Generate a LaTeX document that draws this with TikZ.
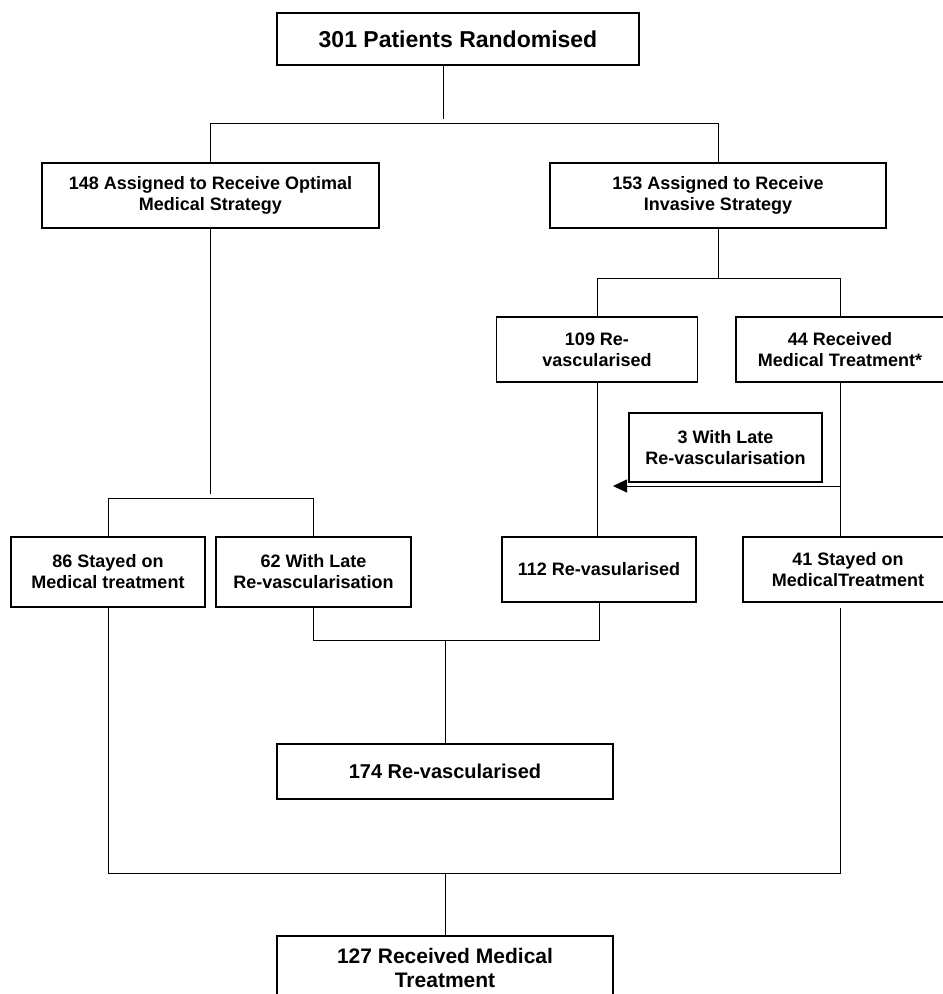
\documentclass[tikz,border=0pt]{standalone}
\usepackage{fontspec}
\setmainfont{Liberation Sans}
\usetikzlibrary{arrows.meta,calc}
\begin{document}
\begin{tikzpicture}[x=1pt,y=-1pt,
  box/.style={draw, line width=1.1pt, inner sep=0pt, align=center,
    font=\bfseries\fontsize{18}{21}\selectfont},
  conn/.style={line width=0.9pt}]
\useasboundingbox (0,0) rectangle (943,994);

% boxes
\node[box, minimum width=362pt, minimum height=52pt,
  font=\bfseries\fontsize{23}{26}\selectfont] (top) at (458,39) {301 Patients Randomised};
\node[box, minimum width=337pt, minimum height=65pt] (L1) at (210.5,195.5)
  {148 Assigned to Receive Optimal\\Medical Strategy};
\node[box, minimum width=336pt, minimum height=65pt] (R1) at (718,195.5)
  {153 Assigned to Receive\\Invasive Strategy};
\node[box, minimum width=201pt, minimum height=65pt] (B109) at (597,349.5)
  {109 Re-\\vascularised};
\node[box, minimum width=208pt, minimum height=65pt] (B44) at (840,349.5)
  {44 Received\\Medical Treatment*};
\node[box, minimum width=193pt, minimum height=69pt] (B3) at (725.5,447.5)
  {3 With Late\\Re-vascularisation};
\node[box, minimum width=194pt, minimum height=70pt] (B86) at (108,572)
  {86 Stayed on\\Medical treatment};
\node[box, minimum width=195pt, minimum height=70pt] (B62) at (313.5,572)
  {62 With Late\\Re-vascularisation};
\node[box, minimum width=194pt, minimum height=65pt] (B112) at (599,569.5)
  {112 Re-vasularised};
\node[box, minimum width=210pt, minimum height=65pt] (B41) at (848,569.5)
  {41 Stayed on\\MedicalTreatment};
\node[box, minimum width=336pt, minimum height=55pt,
  font=\bfseries\fontsize{20}{23}\selectfont] (B174) at (445,771.5) {174 Re-vascularised};
\node[box, minimum width=336pt, minimum height=64pt,
  font=\bfseries\fontsize{21}{24}\selectfont] (B127) at (445,968)
  {127 Received Medical\\Treatment};

% junction points
\coordinate (jTop) at (443,123);
\coordinate (jL) at (210,498);
\coordinate (jR) at (716,278);
\coordinate (jM) at (445,640);
\coordinate (jB) at (445,873);
\coordinate (arrEnd) at (613,486);

% connectors
\draw[conn] ($(top.south)+(-15,0)$) -- ($(top.south)+(-15,53)$);
\draw[conn] (L1.north) -- (L1.north |- jTop) -- (R1.north |- jTop) -- (R1.north);

\draw[conn] (L1.south) -- ($(L1.south)+(0,265)$);
\draw[conn] (B86.north) -- (B86.north |- jL) -- (B62.north |- jL) -- (B62.north);

\draw[conn] (R1.south) -- (R1.south |- jR);
\draw[conn] (B109.north) -- (B109.north |- jR) -- (B44.north |- jR) -- (B44.north);

\draw[conn] (B109.south) -- (B109.south |- B112.north);
\draw[conn] (B44.south) -- (B44.south |- B41.north);
\draw[conn,-{Triangle[length=14pt,width=13pt]}] (B44.south |- arrEnd) -- (arrEnd);

\draw[conn] (B62.south) -- (B62.south |- jM) -- (B112.south |- jM) -- (B112.south);
\draw[conn] (jM) -- (B174.north);

\draw[conn] (B86.south) -- (B86.south |- jB) -- (B44.south |- jB)
  -- ($(B44.south |- B41.south)+(0,5)$);
\draw[conn] (jB) -- (B127.north);
\end{tikzpicture}
\end{document}
